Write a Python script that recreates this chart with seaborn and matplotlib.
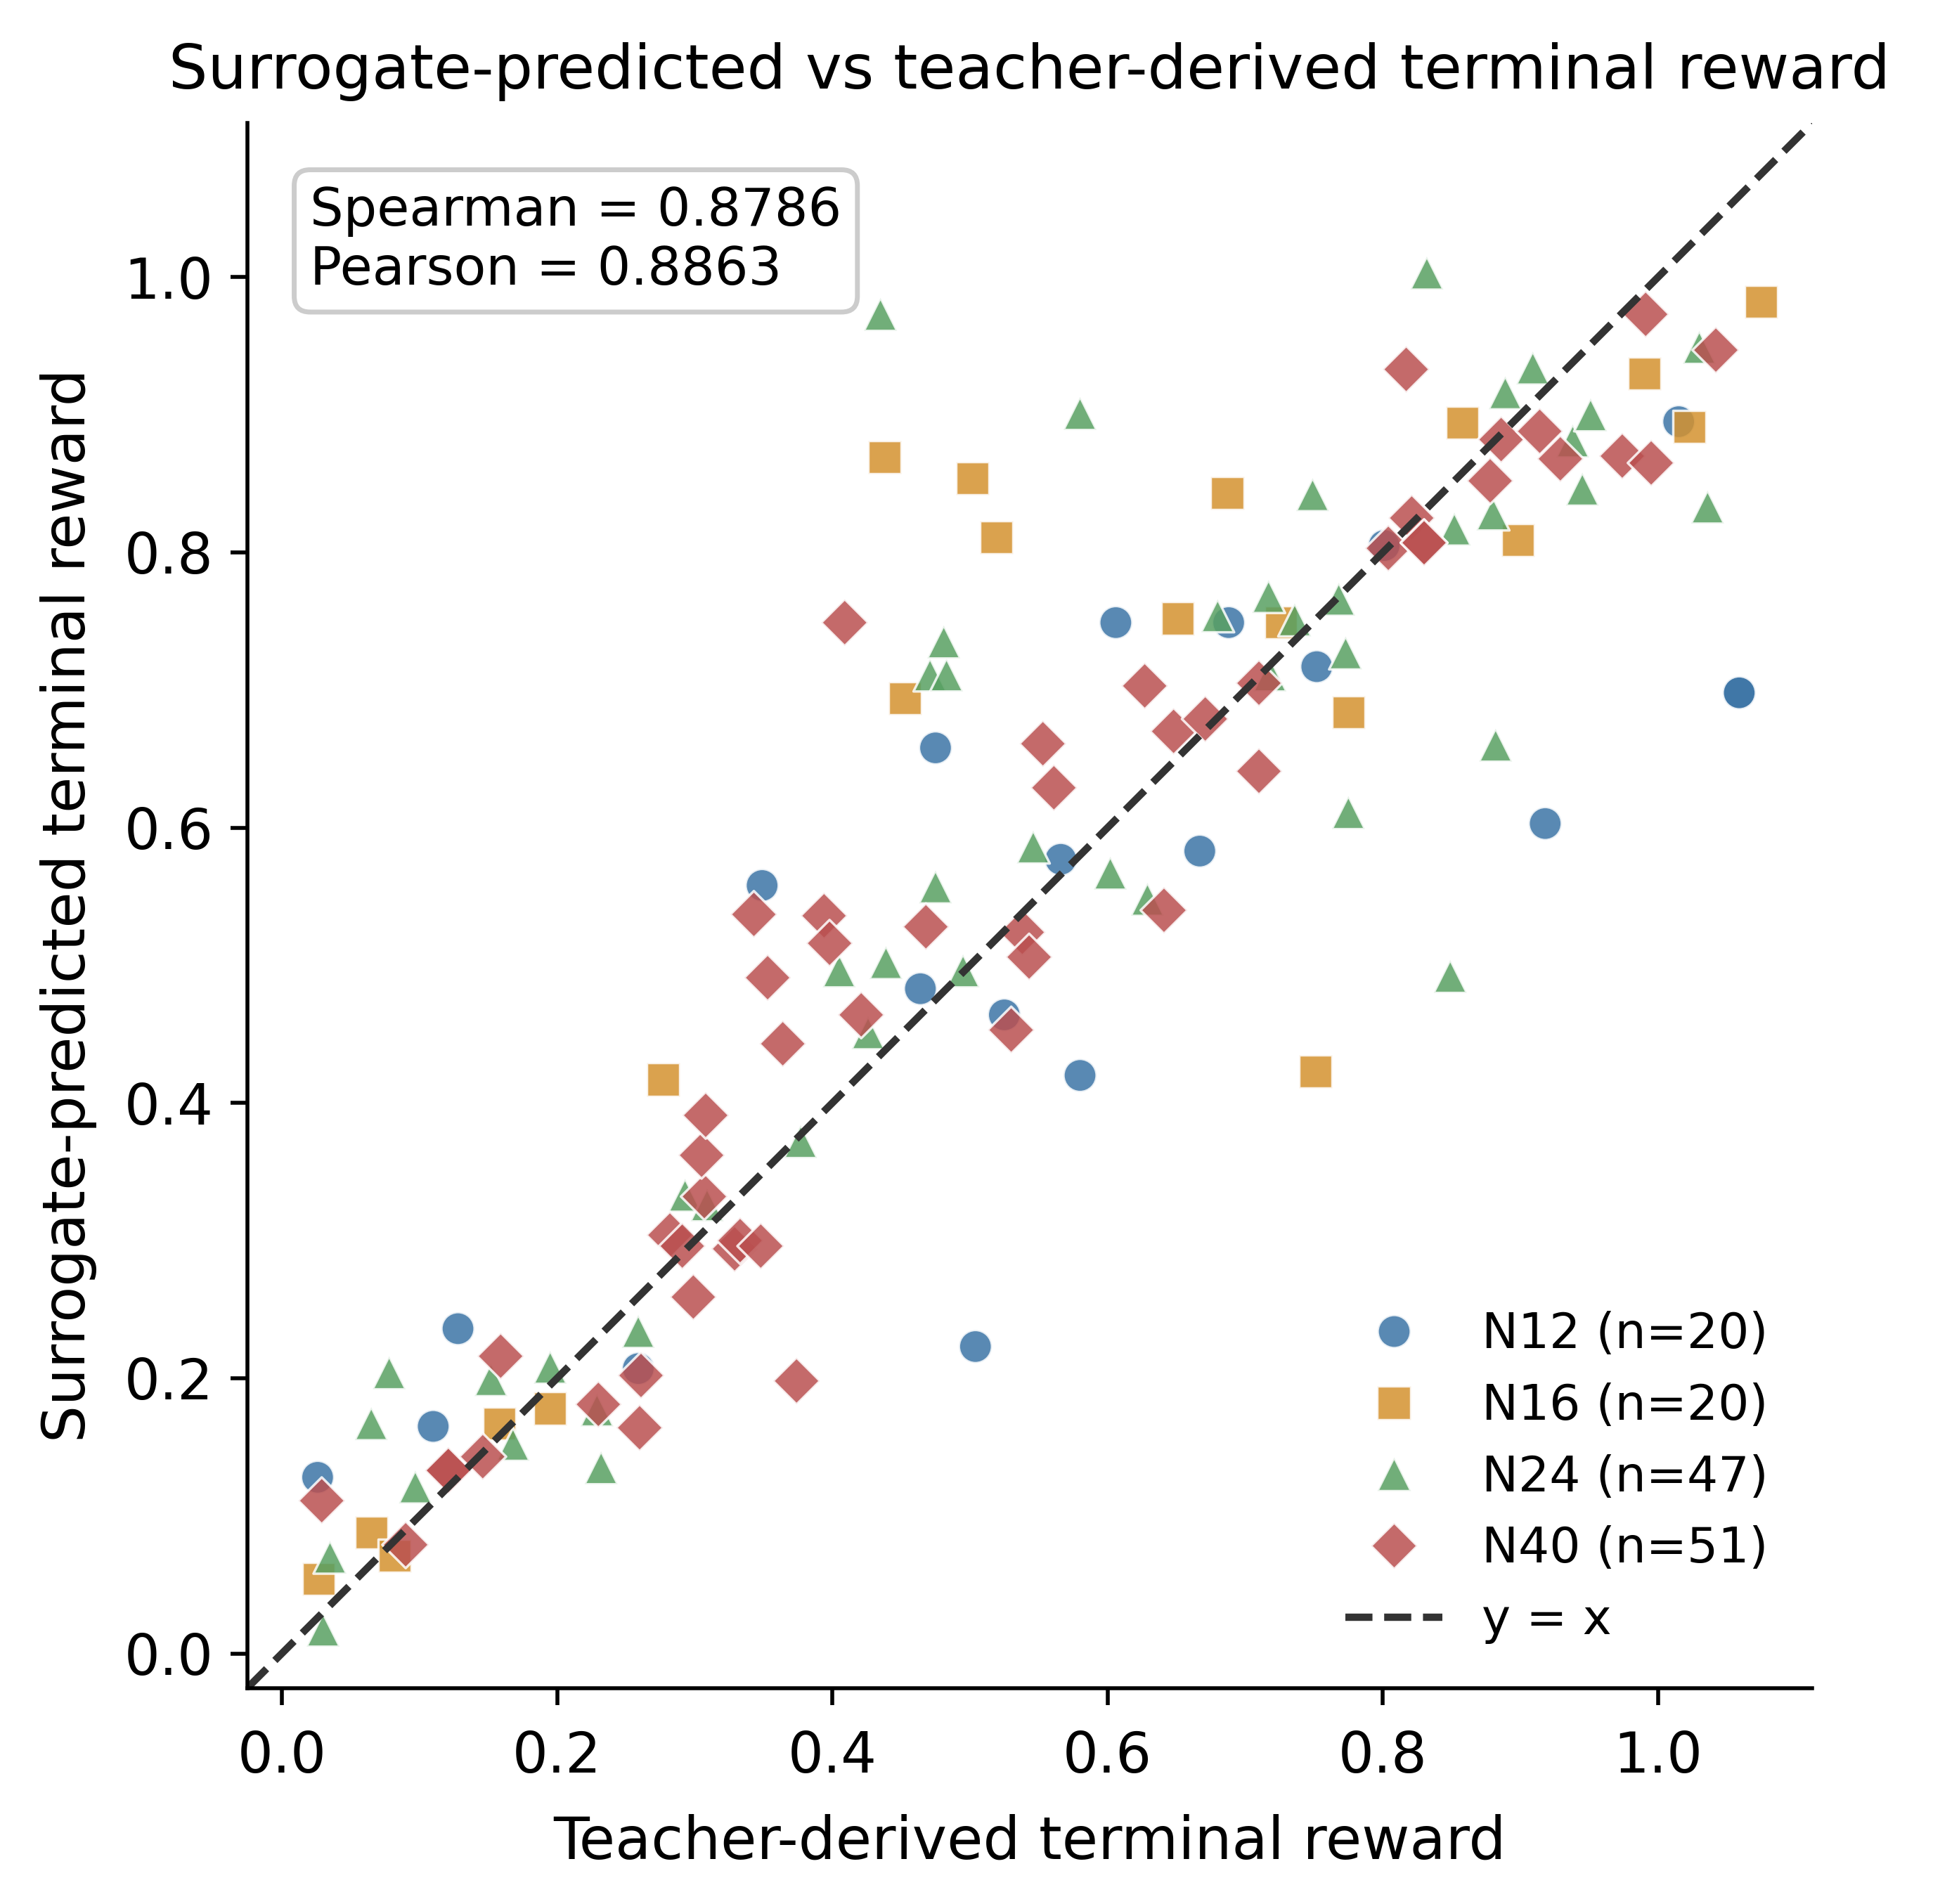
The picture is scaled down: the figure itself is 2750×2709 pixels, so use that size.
import pandas as pd
import matplotlib.pyplot as plt
import seaborn as sns

# Teacher-derived (x) and surrogate-predicted (y) terminal reward per group
n12_x = [0.026, 0.128, 0.110, 0.259, 0.349, 0.464, 0.475, 0.504, 0.525, 0.566,
         0.580, 0.606, 0.667, 0.688, 0.752, 0.801, 0.918, 1.015, 1.059, 1.059]
n12_y = [0.128, 0.236, 0.165, 0.207, 0.558, 0.483, 0.658, 0.223, 0.464, 0.577,
         0.420, 0.749, 0.583, 0.749, 0.717, 0.805, 0.603, 0.895, 0.698, 0.698]

n16_x = [0.027, 0.065, 0.082, 0.158, 0.195, 0.277, 0.438, 0.453, 0.502, 0.519,
         0.651, 0.687, 0.726, 0.751, 0.775, 0.858, 0.898, 0.990, 1.023, 1.075]
n16_y = [0.054, 0.088, 0.071, 0.167, 0.178, 0.417, 0.869, 0.694, 0.854, 0.811,
         0.752, 0.843, 0.749, 0.423, 0.684, 0.894, 0.809, 0.930, 0.891, 0.982]

n24_x = [0.030, 0.035, 0.065, 0.078, 0.097, 0.152, 0.168, 0.195, 0.232, 0.229,
         0.259, 0.293, 0.309, 0.377, 0.405, 0.426, 0.439, 0.435, 0.471, 0.483,
         0.481, 0.475, 0.495, 0.546, 0.580, 0.602, 0.629, 0.680, 0.717, 0.718,
         0.736, 0.749, 0.768, 0.773, 0.775, 0.832, 0.849, 0.852, 0.880, 0.882,
         0.889, 0.909, 0.938, 0.945, 0.951, 1.030, 1.036]
n24_y = [0.017, 0.070, 0.167, 0.204, 0.121, 0.199, 0.152, 0.208, 0.135, 0.177,
         0.234, 0.333, 0.326, 0.372, 0.496, 0.451, 0.502, 0.973, 0.711, 0.711,
         0.735, 0.557, 0.496, 0.586, 0.901, 0.567, 0.548, 0.754, 0.768, 0.711,
         0.751, 0.842, 0.766, 0.727, 0.611, 1.003, 0.492, 0.817, 0.828, 0.660,
         0.916, 0.934, 0.881, 0.846, 0.900, 0.949, 0.833]

n40_x = [0.029, 0.090, 0.121, 0.121, 0.146, 0.159, 0.230, 0.260, 0.261, 0.282,
         0.291, 0.299, 0.307, 0.329, 0.333, 0.348, 0.305, 0.308, 0.343, 0.353,
         0.364, 0.374, 0.394, 0.398, 0.409, 0.421, 0.468, 0.530, 0.538, 0.543,
         0.553, 0.561, 0.627, 0.641, 0.648, 0.671, 0.710, 0.710, 0.804, 0.821,
         0.830, 0.830, 0.817, 0.878, 0.886, 0.914, 0.929, 0.974, 0.995, 0.991,
         1.042]
n40_y = [0.111, 0.079, 0.133, 0.133, 0.143, 0.216, 0.181, 0.164, 0.202, 0.304,
         0.296, 0.259, 0.332, 0.294, 0.300, 0.296, 0.362, 0.391, 0.537, 0.491,
         0.443, 0.198, 0.536, 0.516, 0.749, 0.464, 0.528, 0.453, 0.524, 0.506,
         0.661, 0.629, 0.703, 0.540, 0.670, 0.679, 0.705, 0.641, 0.803, 0.825,
         0.807, 0.807, 0.933, 0.852, 0.882, 0.888, 0.868, 0.870, 0.865, 0.973,
         0.947]

groups = ['N12 (n=20)', 'N16 (n=20)', 'N24 (n=47)', 'N40 (n=51)']
colors = ['#3C74A6', '#D4922F', '#58A062', '#BA5050']
marker_list = ['o', 's', '^', 'D']

frames = []
for name, xs, ys in zip(groups, [n12_x, n16_x, n24_x, n40_x], [n12_y, n16_y, n24_y, n40_y]):
    frames.append(pd.DataFrame({'teacher': xs, 'surrogate': ys, 'group': name}))
df = pd.concat(frames, ignore_index=True)

lims = [-0.025, 1.112]

fig, ax = plt.subplots(figsize=(5.5, 5.418))
fig.subplots_adjust(left=0.128, right=0.9375, bottom=0.1135, top=0.9354)

sns.scatterplot(data=df, x='teacher', y='surrogate', hue='group', style='group',
                hue_order=groups, style_order=groups,
                palette=dict(zip(groups, colors)), markers=dict(zip(groups, marker_list)),
                s=46, alpha=0.85, edgecolor='white', linewidth=0.5, ax=ax)

ax.plot(lims, lims, linestyle='--', color='#333333', linewidth=1.5, label='y = x')
ax.set_xlim(lims)
ax.set_ylim(lims)

ax.text(0.04, 0.96, 'Spearman = 0.8786\nPearson = 0.8863', transform=ax.transAxes,
        va='top', ha='left', fontsize=10.8,
        bbox=dict(boxstyle='round,pad=0.3', facecolor='white', edgecolor='#cccccc'))

ax.set_xlabel('Teacher-derived terminal reward', fontsize=12, labelpad=6)
ax.set_ylabel('Surrogate-predicted terminal reward', fontsize=12, labelpad=5.5)
ax.set_title('Surrogate-predicted vs teacher-derived terminal reward', fontsize=12.6, pad=7)
ax.tick_params(labelsize=11.5)
ax.tick_params(axis='x', pad=5)
ax.legend(loc='lower right', frameon=False, fontsize=10)
sns.despine(ax=ax)

fig.savefig('out.png', dpi=500)
